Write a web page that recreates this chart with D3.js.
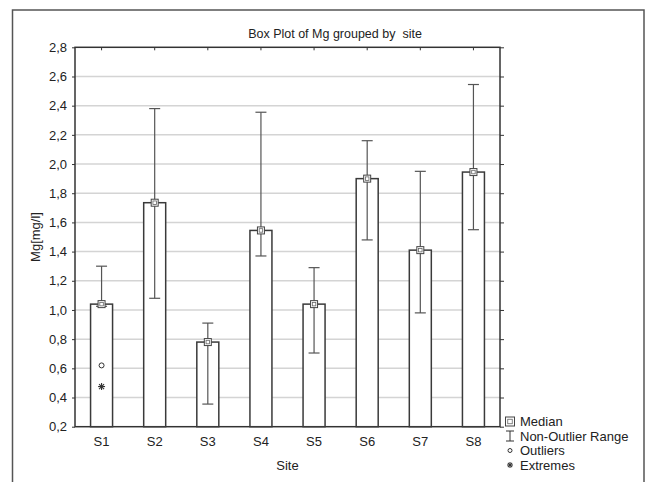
<!DOCTYPE html>
<html>
<head>
<meta charset="utf-8">
<script src="https://cdn.jsdelivr.net/npm/d3@7"></script>
<style>
  body { margin: 0; background: #fff; }
  text { font-family: "Liberation Sans", Arial, sans-serif; fill: #222; }
</style>
</head>
<body>
<script>
// data
var sites = ["S1", "S2", "S3", "S4", "S5", "S6", "S7", "S8"];
var medians = [1.04, 1.735, 0.78, 1.545, 1.04, 1.90, 1.41, 1.945];
var rangeMin = [1.025, 1.08, 0.355, 1.37, 0.705, 1.48, 0.98, 1.55];
var rangeMax = [1.30, 2.38, 0.91, 2.355, 1.29, 2.16, 1.95, 2.545];
var outlierSites = ["S1"];
var outlierValues = [0.62];
var extremeSites = ["S1"];
var extremeValues = [0.475];
var yTicks = [0.2, 0.4, 0.6, 0.8, 1.0, 1.2, 1.4, 1.6, 1.8, 2.0, 2.2, 2.4, 2.6, 2.8];
var legendLabels = ["Median", "Non-Outlier Range", "Outliers", "Extremes"];

var width = 646, height = 482;
var plotLeft = 75, plotRight = 500, plotTop = 47.3, plotBottom = 426.7;

var svg = d3.select("body").append("svg")
    .attr("width", width)
    .attr("height", height);

// outer frame
svg.append("rect")
    .attr("x", 12.5).attr("y", 10)
    .attr("width", 631.5).attr("height", 490)
    .style("fill", "none")
    .style("stroke", "#555")
    .style("stroke-width", 1.5);

var x = d3.scaleBand().domain(sites).range([plotLeft, plotRight]).padding(0);
var y = d3.scaleLinear().domain([0.2, 2.8]).range([plotBottom, plotTop]);
var cx = function(s) { return x(s) + x.bandwidth() / 2; };
var fmt = function(v) { return d3.format(".1f")(v).replace(".", ","); };

// gridlines
svg.append("g")
    .selectAll("line")
    .data(yTicks.slice(1, -1))
    .enter().append("line")
    .attr("x1", plotLeft).attr("x2", plotRight)
    .attr("y1", function(d) { return y(d); })
    .attr("y2", function(d) { return y(d); })
    .style("stroke", "#d4d4d4")
    .style("stroke-width", 1.5);

// axes
var yAxis = svg.append("g")
    .attr("transform", "translate(" + plotLeft + ",0)")
    .call(d3.axisLeft(y).tickValues(yTicks).tickFormat(fmt).tickSize(3).tickPadding(5));
var yAxisR = svg.append("g")
    .attr("transform", "translate(" + plotRight + ",0)")
    .call(d3.axisLeft(y).tickValues(yTicks).tickFormat("").tickSize(-4));
var xAxis = svg.append("g")
    .attr("transform", "translate(0," + plotBottom + ")")
    .call(d3.axisBottom(x).tickSize(-3).tickPadding(10));
var xAxisT = svg.append("g")
    .attr("transform", "translate(0," + plotTop + ")")
    .call(d3.axisTop(x).tickSize(-3).tickFormat(""));

[yAxis, yAxisR, xAxis, xAxisT].forEach(function(g) {
    g.select(".domain").remove();
    g.selectAll("line").style("stroke", "#333");
    g.selectAll("text")
        .style("font-family", "'Liberation Sans', Arial, sans-serif")
        .style("font-size", "13px")
        .style("fill", "#222");
});

// plot frame
svg.append("rect")
    .attr("x", plotLeft).attr("y", plotTop)
    .attr("width", plotRight - plotLeft).attr("height", plotBottom - plotTop)
    .style("fill", "none")
    .style("stroke", "#333")
    .style("stroke-width", 1.5);

var bw = 22, cap = 11;
var data = sites.map(function(s, i) {
    return { site: s, med: medians[i], lo: rangeMin[i], hi: rangeMax[i] };
});

// boxes from the base up to the median
svg.append("g")
    .selectAll("rect")
    .data(data)
    .enter().append("rect")
    .attr("x", function(d) { return cx(d.site) - bw / 2; })
    .attr("y", function(d) { return y(d.med); })
    .attr("width", bw)
    .attr("height", function(d) { return y(0.2) - y(d.med); })
    .style("fill", "#fff")
    .style("stroke", "#3a3a3a")
    .style("stroke-width", 1.5);

// whiskers
var wh = svg.append("g").style("stroke", "#555").style("stroke-width", 1.2);
data.forEach(function(d) {
    var c = cx(d.site);
    wh.append("line").attr("x1", c).attr("x2", c).attr("y1", y(d.lo)).attr("y2", y(d.hi));
    wh.append("line").attr("x1", c - cap / 2).attr("x2", c + cap / 2).attr("y1", y(d.lo)).attr("y2", y(d.lo));
    wh.append("line").attr("x1", c - cap / 2).attr("x2", c + cap / 2).attr("y1", y(d.hi)).attr("y2", y(d.hi));
});

// median markers
function medianMark(g, px, py, s) {
    g.append("rect").attr("x", px - s / 2).attr("y", py - s / 2).attr("width", s).attr("height", s)
        .style("fill", "#fff").style("stroke", "#444").style("stroke-width", 1);
    g.append("rect").attr("x", px - s / 4).attr("y", py - s / 4).attr("width", s / 2).attr("height", s / 2)
        .style("fill", "none").style("stroke", "#666").style("stroke-width", 0.8);
}
var mg = svg.append("g");
data.forEach(function(d) { medianMark(mg, cx(d.site), y(d.med), 7); });

// outliers
svg.append("g")
    .selectAll("circle")
    .data(outlierValues)
    .enter().append("circle")
    .attr("cx", function(d, i) { return cx(outlierSites[i]); })
    .attr("cy", function(d) { return y(d); })
    .attr("r", 2.5)
    .style("fill", "none")
    .style("stroke", "#333")
    .style("stroke-width", 1);

// extremes (asterisk)
function asterisk(g, px, py, r) {
    [0, 45, 90, 135].forEach(function(a) {
        var rad = a * Math.PI / 180;
        g.append("line")
            .attr("x1", px - r * Math.cos(rad)).attr("y1", py - r * Math.sin(rad))
            .attr("x2", px + r * Math.cos(rad)).attr("y2", py + r * Math.sin(rad))
            .style("stroke", "#333").style("stroke-width", 1.1);
    });
}
var eg = svg.append("g");
extremeValues.forEach(function(v, i) { asterisk(eg, cx(extremeSites[i]), y(v), 3.5); });

// titles
svg.append("text")
    .attr("x", 335).attr("y", 38)
    .attr("text-anchor", "middle")
    .style("font-size", "12.5px")
    .style("white-space", "pre")
    .text("Box Plot of Mg grouped by  site");

svg.append("text")
    .attr("x", (plotLeft + plotRight) / 2).attr("y", 470)
    .attr("text-anchor", "middle")
    .style("font-size", "13px")
    .text("Site");

svg.append("text")
    .attr("transform", "translate(40," + ((plotTop + plotBottom) / 2) + ") rotate(-90)")
    .attr("text-anchor", "middle")
    .style("font-size", "13px")
    .text("Mg[mg/l]");

// legend
var lg = svg.append("g");
var lx = 510, ly0 = 421.5, step = 14.5;
legendLabels.forEach(function(t, i) {
    lg.append("text")
        .attr("x", 520).attr("y", ly0 + i * step + 4.5)
        .style("font-size", "13px")
        .text(t);
});
medianMark(lg, lx, ly0, 9);
var ny = ly0 + step;
lg.append("line").attr("x1", lx).attr("x2", lx).attr("y1", ny - 5).attr("y2", ny + 5).style("stroke", "#333");
lg.append("line").attr("x1", lx - 4).attr("x2", lx + 4).attr("y1", ny - 5).attr("y2", ny - 5).style("stroke", "#333");
lg.append("line").attr("x1", lx - 4).attr("x2", lx + 4).attr("y1", ny + 5).attr("y2", ny + 5).style("stroke", "#333");
lg.append("circle").attr("cx", lx).attr("cy", ly0 + 2 * step).attr("r", 2)
    .style("fill", "none").style("stroke", "#333");
asterisk(lg, lx, ly0 + 3 * step, 3);
</script>
</body>
</html>
